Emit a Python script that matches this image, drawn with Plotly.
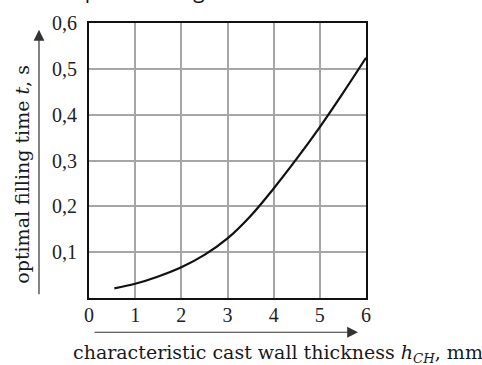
import plotly.graph_objects as go

# data
thickness_mm = [0.55, 1.0, 1.5, 2.0, 2.5, 3.0, 3.5, 4.0, 4.5, 5.0, 5.5, 6.0]
fill_time_s = [0.021, 0.031, 0.047, 0.067, 0.094, 0.130, 0.179, 0.239, 0.304, 0.373, 0.447, 0.524]

x_tick_vals = [0, 1, 2, 3, 4, 5, 6]
x_tick_text = ["0", "1", "2", "3", "4", "5", "6"]
y_tick_vals = [0.1, 0.2, 0.3, 0.4, 0.5, 0.6]
y_tick_text = ["0,1", "0,2", "0,3", "0,4", "0,5", "0,6"]

W, H = 482, 365
L, R, T, B = 89, 116, 17, 67
pw, ph = W - L - R, H - T - B


def px(xp):
    return (xp - L) / pw


def py(yp):
    return (H - B - yp) / ph


fig = go.Figure()
fig.add_trace(go.Scatter(
    x=thickness_mm, y=fill_time_s, mode="lines",
    line=dict(color="#111111", width=2.2, shape="spline", smoothing=1.0),
    hoverinfo="skip", showlegend=False,
))

tick_font = dict(family="Liberation Serif, Times New Roman, serif", size=20, color="#222222")
title_font = dict(family="DejaVu Serif, serif", size=19, color="#1a1a1a")

fig.update_layout(
    width=W, height=H,
    margin=dict(l=L, r=R, t=T, b=B, pad=0),
    paper_bgcolor="white", plot_bgcolor="white",
    xaxis=dict(range=[0, 6], tickvals=x_tick_vals, ticktext=x_tick_text,
               showgrid=True, gridcolor="#a6a6a6", gridwidth=1.5,
               showline=True, linecolor="#111111", linewidth=2, mirror=True,
               ticks="", tickfont=tick_font, zeroline=False,
               ticklabelstandoff=-2, fixedrange=True),
    yaxis=dict(range=[0, 0.6], tickvals=y_tick_vals, ticktext=y_tick_text,
               showgrid=True, gridcolor="#a6a6a6", gridwidth=1.5,
               showline=True, linecolor="#111111", linewidth=2, mirror=True,
               ticks="", tickfont=tick_font, zeroline=False,
               ticklabelstandoff=6, fixedrange=True),
)

annotations = [
    # x-axis title
    dict(x=px(278), y=py(355), xref="paper", yref="paper",
         text="characteristic cast wall thickness <i>h</i><sub><i>CH</i></sub>, mm",
         showarrow=False, font=title_font, xanchor="center", yanchor="middle"),
    # y-axis title
    dict(x=px(22), y=py(172), xref="paper", yref="paper",
         text="optimal filling time <i>t</i>, s", textangle=-90,
         showarrow=False, font=title_font, xanchor="center", yanchor="middle"),
    # x arrow
    dict(x=px(358), y=py(333), xref="paper", yref="paper", text="",
         showarrow=True, ax=-265, ay=0, axref="pixel", ayref="pixel",
         arrowhead=2, arrowsize=1.8, arrowwidth=1.2, arrowcolor="#333333"),
    # y arrow
    dict(x=px(39), y=py(24), xref="paper", yref="paper", text="",
         showarrow=True, ax=0, ay=266, axref="pixel", ayref="pixel",
         arrowhead=2, arrowsize=1.8, arrowwidth=1.2, arrowcolor="#333333"),
    # cut-off caption at the very top
    dict(x=px(70), y=py(0), xref="paper", yref="paper",
         text="optimal filling time", showarrow=False,
         font=dict(family="Open Sans", size=21, color="#111111"),
         xanchor="left", yanchor="bottom"),
]
fig.update_layout(annotations=annotations)

fig.write_html("out.html", config={"displayModeBar": False},
               post_script="document.body.style.margin='0';document.body.style.overflow='hidden';")
